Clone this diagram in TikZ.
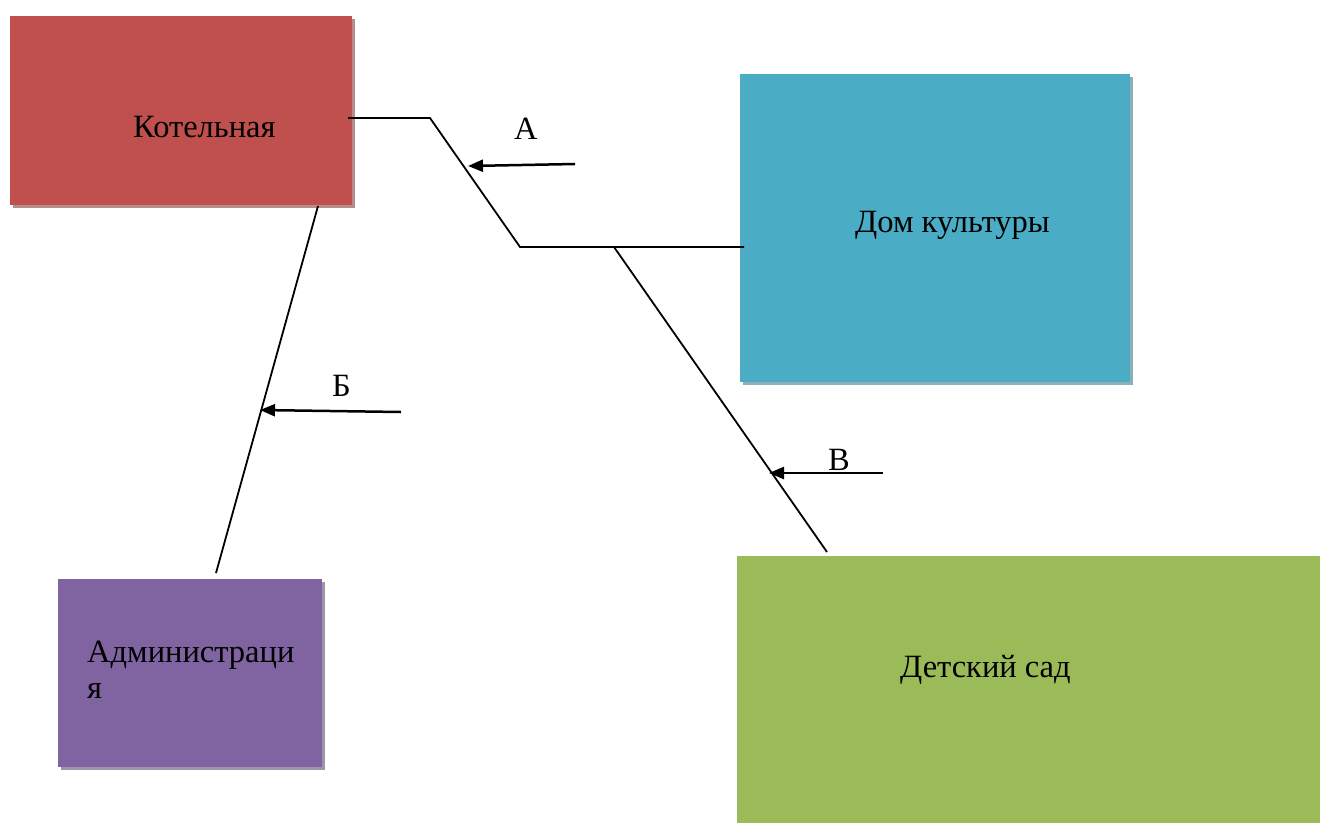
\documentclass[tikz,border=0pt]{standalone}
\usepackage{fontspec}
\setmainfont{Liberation Serif}
\usetikzlibrary{arrows.meta,shadows}
\definecolor{cred}{HTML}{C0504D}
\definecolor{cblue}{HTML}{4BACC6}
\definecolor{cpurple}{HTML}{8064A2}
\definecolor{cgreen}{HTML}{9BBB59}
\begin{document}
\begin{tikzpicture}[x=1pt,y=-1pt,
  box/.style={rectangle, draw=none, anchor=north west, inner sep=0pt},
  shad/.style={drop shadow={shadow xshift=3pt, shadow yshift=-3pt, fill=black!35!#1!70!white, opacity=0.8}},
  lbl/.style={anchor=base west, inner sep=0pt, font=\rmfamily\fontsize{32.5}{36}\selectfont},
  pipe/.style={line width=1.8pt, line cap=butt},
  flow/.style={line width=2.5pt, -{Triangle[length=15pt,width=12pt]}}]
\useasboundingbox (0,0) rectangle (1320,823);
% boxes
\node[box, fill=cred, shad=cred, minimum width=342pt, minimum height=189pt] (kot) at (10,16) {};
\node[box, fill=cblue, shad=cblue, minimum width=390pt, minimum height=308pt] (dom) at (740,74) {};
\node[box, fill=cpurple, shad=cpurple, minimum width=264pt, minimum height=188pt] (adm) at (58,579) {};
\node[box, fill=cgreen, minimum width=583pt, minimum height=267pt] (sad) at (737,556) {};
% texts
\node[lbl] (kott) at (133,137) {Котельная};
\node[lbl] (domt) at (855,232) {Дом культуры};
\node[lbl] (admt) at (87,662) {Администраци};
\node[lbl] (admt2) at (87,698) {я};
\node[lbl] (sadt) at (900,677) {Детский сад};
% pipe coordinates
\coordinate (k1) at (348,118);
\coordinate (k2) at (430,118);
\coordinate (k3) at (520,247);
\coordinate (k4) at (744,247);
\coordinate (b1) at (614,247);
\coordinate (b2) at (827,552);
\coordinate (a1) at (318,206);
\coordinate (a2) at (216,573);
\draw[pipe] (k1) -- (k2) -- (k3) -- (k4);
\draw[pipe] (b1) -- (b2);
\draw[pipe] (a1) -- (a2);
% flow arrows
\coordinate (fa1) at (575,164);
\coordinate (fa2) at (468,166);
\coordinate (fb1) at (401,412);
\coordinate (fb2) at (260,410);
\coordinate (fc1) at (883,473);
\coordinate (fc2) at (769,473);
\draw[flow] (fa1) -- (fa2);
\draw[flow] (fb1) -- (fb2);
\draw[flow] (fc1) -- (fc2);
\node[lbl] (la) at (514,139) {А};
\node[lbl] (lb) at (332,396) {Б};
\node[lbl] (lc) at (828,470) {В};
\end{tikzpicture}
\end{document}
